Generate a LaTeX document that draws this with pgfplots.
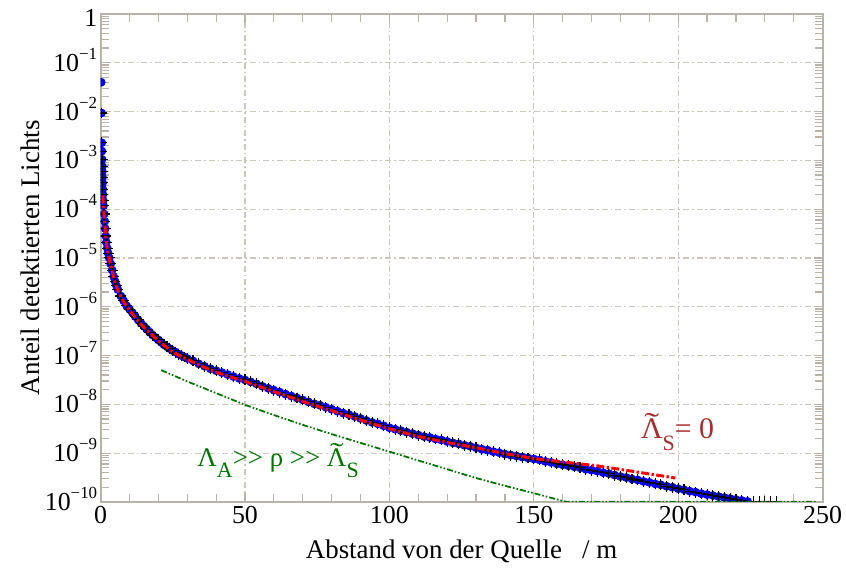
\documentclass[border=0pt]{standalone}
\usepackage{fontspec}
\setmainfont{Liberation Serif}
\usepackage{pgfplots}
\pgfplotsset{compat=1.18}
\usepackage{pgfplotstable}

\definecolor{framec}{RGB}{185,178,168}
\definecolor{gridc}{RGB}{205,198,189}
\definecolor{dgreen}{RGB}{0,115,0}
\definecolor{rtext}{RGB}{165,45,45}

\newcommand\ex[1]{10\raisebox{0.46em}{\fontsize{8.5}{10}\selectfont #1}}
\newcommand\tLam{\leavevmode\hbox{\ooalign{Λ\cr\hidewidth\raisebox{0.16em}{\scalebox{1.5}[1]{˜}}\hidewidth\cr}}}
\newcommand\sub[2]{\raisebox{-0.42em}{\fontsize{#1}{#1}\selectfont #2}}
\newcommand\ggt{>\kern0pt>}

\pgfplotstableread{
x ly
0.2 -1.40
0.3 -2.03
0.4 -2.64
0.45 -2.81
0.5 -2.98
0.55 -3.12
0.6 -3.23
0.65 -3.35
0.7 -3.46
0.75 -3.59
0.8 -3.70
0.9 -3.82
1.0 -3.93
1.2 -4.10
1.4 -4.25
1.6 -4.40
1.8 -4.55
2.0 -4.68
2.3 -4.80
2.6 -4.90
3.0 -5.00
3.5 -5.12
4.0 -5.25
4.5 -5.38
5.0 -5.48
5.5 -5.57
6 -5.65
7 -5.78
8 -5.88
9 -5.98
10 -6.05
11 -6.12
12 -6.20
13 -6.27
14 -6.34
15 -6.40
16 -6.46
17 -6.52
18 -6.58
19 -6.63
20 -6.68
21 -6.73
22 -6.78
23 -6.82
24 -6.86
25 -6.90
26 -6.93
27 -6.97
28 -7.00
29 -7.03
30 -7.06
32 -7.11
34 -7.17
36 -7.22
38 -7.27
40 -7.31
42 -7.35
44 -7.39
46 -7.43
48 -7.47
50 -7.50
52 -7.54
54 -7.58
56 -7.63
58 -7.67
60 -7.71
62 -7.75
64 -7.79
66 -7.83
68 -7.87
70 -7.91
72 -7.95
74 -7.99
76 -8.02
78 -8.06
80 -8.10
82 -8.14
84 -8.18
86 -8.21
88 -8.25
90 -8.29
92 -8.33
94 -8.37
96 -8.40
98 -8.44
100 -8.48
102 -8.51
104 -8.54
106 -8.57
108 -8.60
110 -8.63
112 -8.66
114 -8.68
116 -8.71
118 -8.73
120 -8.76
122 -8.79
124 -8.81
126 -8.84
128 -8.86
130 -8.89
132 -8.92
134 -8.94
136 -8.97
138 -8.99
140 -9.02
142 -9.04
144 -9.06
146 -9.08
148 -9.10
150 -9.12
152 -9.14
154 -9.17
156 -9.19
158 -9.22
160 -9.24
162 -9.26
164 -9.28
166 -9.30
168 -9.33
170 -9.35
172 -9.37
174 -9.40
176 -9.42
178 -9.45
180 -9.48
182 -9.50
184 -9.53
186 -9.55
188 -9.58
190 -9.60
192 -9.63
194 -9.65
196 -9.68
198 -9.70
200 -9.73
202 -9.75
204 -9.78
206 -9.80
208 -9.83
210 -9.85
212 -9.87
214 -9.89
216 -9.91
218 -9.93
220 -9.95
222 -9.97
224 -9.99
226 -9.99
228 -9.99
230 -9.99
232 -9.99
234 -9.99
}\mainT

\pgfplotstableread{
x ly
0.8 -3.72
1.0 -3.95
1.4 -4.27
2 -4.70
3 -5.02
4 -5.27
5 -5.50
6 -5.67
8 -5.90
10 -6.07
12 -6.22
14 -6.36
17 -6.53
20 -6.70
25 -6.93
30 -7.08
35 -7.22
40 -7.34
45 -7.44
50 -7.53
60 -7.74
70 -7.94
80 -8.13
90 -8.32
100 -8.50
110 -8.66
120 -8.78
130 -8.89
140 -9.01
150 -9.11
160 -9.18
172 -9.26
185 -9.38
199 -9.51
}\redT

\pgfplotstableread{
x ly
21 -7.30
30 -7.53
40 -7.77
50 -8.01
60 -8.22
70 -8.42
80 -8.61
90 -8.79
100 -8.97
110 -9.15
120 -9.33
130 -9.51
140 -9.67
150 -9.82
155 -9.90
161 -9.995
248 -9.995
}\greenT

\begin{document}
\begin{tikzpicture}
\begin{axis}[
  scale only axis,
  width=362.5pt, height=245pt,
  xmin=0, xmax=250,
  ymode=log, ymin=1e-10, ymax=1,
  xtick={0,50,...,250},
  minor x tick num=4,
  ytick={1e-10,1e-9,1e-8,1e-7,1e-6,1e-5,1e-4,1e-3,1e-2,1e-1,1},
  yticklabels={\ex{−10},\ex{−9},\ex{−8},\ex{−7},\ex{−6},\ex{−5},\ex{−4},\ex{−3},\ex{−2},\ex{−1},{\raisebox{-2.3pt}{1}\hspace{5.5pt}}},
  /pgf/number format/assume math mode=true,
  tick label style={font=\fontsize{13}{15}\selectfont},
  yticklabel style={anchor=base east, yshift=-4.25pt, inner sep=1.5pt},
  xticklabel style={inner sep=2pt},
  axis line style={framec, line width=1pt},
  every tick/.style={framec, line width=0.6pt},
  major tick length=4.5pt,
  minor tick length=4pt,
  grid=major,
  major grid style={gridc, line width=0.6pt, dash pattern=on 3pt off 1.5pt on 0.8pt off 1.5pt},
  xlabel={Abstand von der Quelle \ \ / m},
  ylabel={Anteil detektierten Lichts},
  label style={font=\fontsize{13.5}{15}\selectfont},
  xlabel style={at={(axis description cs:0.5,-0.102)}, anchor=center},
  ylabel style={at={(axis description cs:-0.098,0.5)}, anchor=center},
  clip=true,
  clip marker paths=true,
]
\addplot[only marks, mark=*, mark size=2pt, color=blue, restrict x to domain=0:224.5]
  table[x=x, y expr=10^(\thisrow{ly})] {\mainT};
\addplot[only marks, mark=+, mark size=2.75pt, color=black, line width=0.55pt, skip coords between index={0}{1}]
  table[x=x, y expr=10^(\thisrow{ly})] {\mainT};
\addplot[red, line width=1.5pt, dash pattern=on 4pt off 1.2pt on 1.2pt off 1.2pt]
  table[x=x, y expr=10^(\thisrow{ly})] {\redT};
\addplot[dgreen, line width=0.9pt, dash pattern=on 3pt off 1pt on 0.8pt off 1pt on 0.8pt off 1pt]
  table[x=x, y expr=10^(\thisrow{ly})] {\greenT};
\node[text=rtext, font=\fontsize{15}{17}\selectfont, anchor=base west, inner sep=0pt] at (axis cs:187,2.0e-9)
  {\tLam\sub{11}{S}= 0};
\node[text=dgreen, font=\fontsize{13.5}{15}\selectfont, anchor=base west, inner sep=0pt] at (axis cs:33.4,5.4e-10)
  {Λ\sub{11}{A}\ggt{} ρ \ggt{} \tLam\sub{11}{S}};
\end{axis}
\path (current axis.south west) ++(-50.5pt,-34.5pt) coordinate (bl);
\path (current axis.north east) ++(10pt,7pt) coordinate (tr);
\path (bl) rectangle (tr);
\end{tikzpicture}
\end{document}
